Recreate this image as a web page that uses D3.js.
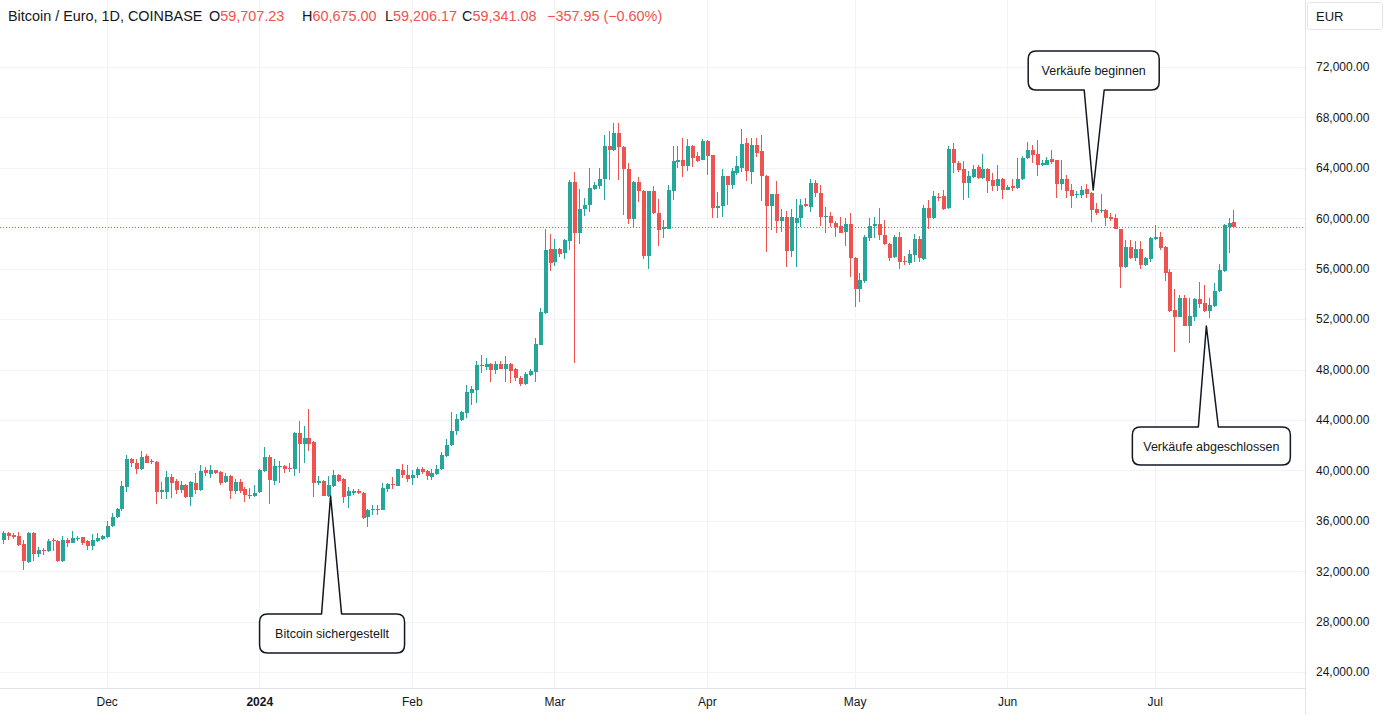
<!DOCTYPE html>
<html><head><meta charset="utf-8">
<script src="https://cdn.jsdelivr.net/npm/d3@7"></script>
<style>
html,body{margin:0;padding:0;background:#fff;overflow:hidden;}
svg{display:block;font-family:"Liberation Sans",Arial,sans-serif;}
</style></head><body>
<svg id="chart" width="1386" height="715"></svg>
<script>
// ---------------- DATA ----------------
const startDate = "2023-11-10"; // first daily candle
const opens = [
// Nov
34470,35000,34860,34810,34120,32700,35050,33360,33670,33590,34470,34390,32800,34470,34260,34550,34680,34390,33990,34390,34550,
// Dec
34680,35580,36260,36900,38700,40870,40610,40080,41140,40660,40690,38310,38310,39470,39150,38440,38840,37910,39020,38410,40000,39740,40000,39870,39080,39580,38370,39110,38500,37950,37950,
// Jan
38320,39980,41040,39190,40300,40380,40220,40110,42940,42100,42600,42230,39030,39190,38000,38770,39640,39300,37960,38230,38330,38230,36300,36830,36880,36830,38550,38940,38730,40050,39660,
// Feb
39390,39600,40080,39920,39470,39740,40080,41110,42010,43120,44000,44580,46160,46380,48360,48230,48410,47960,48410,48020,48410,48020,47350,46830,47570,47800,49950,52510,57530,
// Mar
56520,57580,57260,58180,62860,58840,60700,61040,62360,62550,63080,65770,65400,66780,65670,63920,59960,62860,62200,56990,62150,60380,59160,59160,62150,64450,64660,64130,65720,64930,64660,
// Apr
66120,64980,60830,60960,63340,62630,63600,64000,65980,63660,65850,65320,63390,60960,61890,59770,60120,57430,59660,60000,61110,60930,62780,62040,60130,60190,59660,59390,58940,59550,
// May
56830,54370,55060,58470,59420,59550,58680,57960,56910,58550,56600,56470,57050,58320,56780,60830,60030,61700,61750,60830,65510,64400,63920,62810,63290,64080,63210,63920,63020,62550,63130,
// Jun
62280,62550,62410,63080,64790,65400,65060,64260,64260,64710,64610,62680,63130,62230,61830,61810,62330,62020,60750,60560,60640,60110,60030,59160,56100,57740,56830,57540,56300,56750,
// Jul
58330,58490,57750,55770,52730,52200,53650,51460,52200,53580,53260,52680,53050,54260,55850,59290,59707.23
];
const highs = [
35210,35130,35000,35080,34470,35130,35130,33940,33860,34550,34650,34470,34810,34600,35210,34780,34680,34470,34940,35050,34860,
36000,36580,36980,39150,41220,41000,40870,41530,41270,40930,40740,39080,39950,39740,39290,39150,38890,39150,39820,40400,40260,40400,40030,39950,39820,39600,39320,39320,38710,38580,38840,
40090,41830,41220,40880,40750,40430,40560,43020,43950,43520,44870,42360,39560,39240,39560,40030,39720,39370,38680,38490,38550,38280,36910,37280,37280,39000,39000,39470,40130,40530,40400,
40000,40260,40260,40000,40130,40400,41450,42510,44630,44450,44710,46750,46690,48680,49130,48940,48490,48680,48680,49070,48490,48150,47490,47800,48020,50530,52910,59120,58720,
58320,57650,58370,63020,63660,62330,61620,64000,62860,64000,66570,66910,67520,67520,65720,64400,62940,63290,62280,62150,62550,61540,59850,62600,65770,65770,66380,66250,65850,65240,66250,
66200,64980,62070,63920,63390,64000,64930,67090,66380,66380,66380,66640,63470,61960,62940,60700,60600,60740,61510,61510,61590,63090,63040,62640,60870,60530,59820,60080,60000,60400,
56960,55640,58680,60000,60130,60790,59870,58020,58680,58940,56990,57470,58790,58630,61090,61440,62150,62000,62280,65770,65980,64530,64530,63740,64260,64190,65060,64000,63600,64190,63210,
62600,63080,64790,64930,66040,65850,66200,64610,64870,65400,64660,64660,63470,62680,62150,62550,62680,62070,61220,61960,60750,60380,60300,59160,58250,58280,58230,58230,56960,58490,
59470,58940,57810,55960,54370,53920,53920,53650,53650,54980,54710,53650,54900,56380,59550,60000,60675.00
];
const lows = [
34150,34470,34550,34020,32090,32620,32800,33090,33280,33490,33590,32750,32750,33940,34200,34390,34070,33670,33670,34330,34470,
34600,35520,36190,36800,38310,40290,39680,40030,40560,40480,37300,37700,37700,37780,38100,38180,37830,37170,38100,38360,39550,39420,39740,38840,38970,37730,38130,38180,37520,37710,37870,
38240,39900,37340,38840,38980,39770,39850,39560,39770,40560,41570,37870,38840,37970,37920,38660,39110,37400,37010,38070,38150,36170,35510,36430,36480,36830,38280,38490,38730,39390,39080,
38810,39420,39740,39210,39210,39660,40000,41060,41960,42780,43920,44130,45160,45370,47700,47960,47010,47620,48020,47010,46960,47090,46690,46750,47460,47010,49920,52380,55820,
56200,56910,56730,57470,48530,57920,60170,60480,62230,62330,61440,63020,65320,63020,60220,59510,59240,61280,56730,55990,60300,57790,58450,59110,61440,64000,63290,63740,64080,64450,64610,
63470,60030,60030,60110,61090,62360,63470,63660,62940,62680,64870,61360,57310,59060,58840,58900,56150,56900,56170,59340,60870,60530,61720,59390,58810,59290,58490,58810,57810,55320,
52990,53390,54840,58230,58410,58280,57880,56640,56830,55960,56330,56330,56520,56520,56680,59110,59960,61400,60640,60750,63600,63660,61440,61620,63210,63080,63130,62020,62150,62150,61540,
62230,62150,62330,63020,64710,64400,63390,64130,64190,64340,61620,62230,61620,60830,61620,61620,61620,59690,60220,60430,59370,59770,59110,54480,56030,56750,56640,55960,56250,56560,
58280,57490,55060,52600,49420,52150,51460,50140,51880,52860,52600,52070,52990,54180,55770,57220,59206.17
];
const closes = [
35050,34780,34680,34070,32800,35050,33330,33670,33590,34390,34390,32800,34470,34200,34600,34650,34200,34020,34470,34600,34780,
35600,36320,36900,38760,40870,40560,40080,41080,40610,40740,38280,38440,39470,39020,38410,38840,37910,39080,38410,39950,39820,40000,39820,39020,39580,38400,39060,38400,38050,38050,38180,
40030,41090,39240,40350,40380,40110,40110,42940,42100,42600,42100,39030,39190,38000,38840,39640,39190,37900,38330,38330,38200,36220,36830,36910,36960,38630,38940,38890,40080,39600,39340,
39660,40080,39870,39550,39820,40130,41190,42010,43150,44050,44630,46220,46430,48360,48280,48410,47960,48410,48070,48410,47880,47350,46830,47620,47880,50000,52590,57480,56480,
57580,57180,58260,62860,58840,60700,61090,62410,62600,63080,65720,65400,66780,65670,63870,59960,62860,62150,56990,62150,60380,59060,59320,62230,64530,64660,64130,65720,64790,64530,66120,
64930,60830,61010,63340,62630,63740,64130,65930,63740,65850,65190,63340,60960,61890,59770,60110,57430,60120,60000,61060,61000,62830,62040,60130,60190,59600,59340,58860,59550,56830,
54370,55110,58550,59390,59520,58680,57960,56830,58550,56500,56520,57130,58370,56860,60830,60030,61750,61570,60750,65510,64400,63820,62810,63340,63920,63210,63920,62940,62550,63130,62230,
62490,62410,63130,64790,65400,64980,64260,64400,64660,64450,62680,63130,62150,61750,61940,62280,61890,60640,60430,60640,60030,59980,59160,56150,57740,56830,57540,56300,56830,58410,
58490,57620,55690,52680,52200,53650,51460,52250,53580,53210,52680,53130,54260,55900,59470,59660,59341.08
];
const priceTicks = [24000,28000,32000,36000,40000,44000,48000,52000,56000,60000,64000,68000,72000];
const timeTicks = ["2023-12-01","2024-01-01","2024-02-01","2024-03-01","2024-04-01","2024-05-01","2024-06-01","2024-07-01"];
const timeLabels = ["Dec","2024","Feb","Mar","Apr","May","Jun","Jul"];
const annoTexts = ["Bitcoin sichergestellt", "Verkäufe beginnen", "Verkäufe abgeschlossen"];
const annoTipDates = ["2024-01-15T12:00:00Z", "2024-06-18T12:00:00Z", "2024-07-11T12:00:00Z"];
const annoTipPrices = [37970, 62240, 51450];
const symbolTitle = "Bitcoin / Euro, 1D, COINBASE";
const lastChange = "−357.95 (−0.60%)";

// ---------------- LAYOUT ----------------
const W = 1386, H = 715;
const plotR = 1305, plotB = 688;
const UP = "#26a69a", DOWN = "#ef5350", TXT = "#131722", GRID = "#f0f3fa", BORDER = "#e0e3eb";
// callout box geometry relative to the pointer tip: [dx left, dy top, width, height, base offset]
const annoBoxes = [[-71, 118, 145, 39, 1], [-65, -139, 131, 39, 1], [-74, 101, 158, 38, 2]];

const svg = d3.select("#chart");
const parse = d3.utcParse("%Y-%m-%d");
const x = d3.scaleUtc()
  .domain([parse("2023-12-01"), parse("2024-07-01")])
  .range([106.7, 1154.7]);
const y = d3.scaleLinear().domain([24000, 72000]).range([672, 67]);

const start = parse(startDate);
const candles = closes.map((c, i) => ({
  date: d3.utcDay.offset(start, i),
  o: opens[i], h: highs[i], l: lows[i], c: c
}));

// grid
const grid = svg.append("g");
grid.selectAll("line.h").data(priceTicks).join("line")
  .attr("x1", 0).attr("x2", plotR)
  .attr("y1", d => Math.round(y(d)) + 0.5).attr("y2", d => Math.round(y(d)) + 0.5)
  .attr("stroke", GRID).attr("stroke-width", 1);
grid.selectAll("line.v").data(timeTicks.map(parse)).join("line")
  .attr("y1", 0).attr("y2", plotB)
  .attr("x1", d => Math.round(x(d)) + 0.5).attr("x2", d => Math.round(x(d)) + 0.5)
  .attr("stroke", GRID).attr("stroke-width", 1);

// last price dotted line
const lastC = closes[closes.length - 1];
svg.append("line")
  .attr("x1", 0).attr("x2", plotR)
  .attr("y1", Math.round(y(lastC)) + 0.5).attr("y2", Math.round(y(lastC)) + 0.5)
  .attr("stroke", DOWN).attr("stroke-width", 1).attr("stroke-dasharray", "1,2")
  .attr("shape-rendering", "crispEdges");

// candles
const cg = svg.append("g").attr("shape-rendering", "crispEdges");
const bw = 4;
const cs = cg.selectAll("g").data(candles).join("g");
cs.append("rect")
  .attr("x", d => Math.round(x(d.date)))
  .attr("width", 1)
  .attr("y", d => y(d.h))
  .attr("height", d => Math.max(1, y(d.l) - y(d.h)))
  .attr("fill", d => d.c >= d.o ? UP : DOWN);
cs.append("rect")
  .attr("x", d => Math.round(x(d.date)) - 1.5)
  .attr("width", bw)
  .attr("y", d => y(Math.max(d.o, d.c)))
  .attr("height", d => Math.max(1, Math.abs(y(d.o) - y(d.c))))
  .attr("fill", d => d.c >= d.o ? UP : DOWN);

// annotations (callouts)
const ag = svg.append("g");
annoTexts.forEach((t, i) => {
  const tx = x(d3.isoParse(annoTipDates[i])), ty = y(annoTipPrices[i]);
  const [dx, dy, bwid, bh, bo] = annoBoxes[i];
  const bx = tx + dx, by = ty + dy, r = 8, half = 10, base = tx + bo;
  let p;
  if (dy > 0) {
    p = `M${bx + r},${by} L${base - half},${by} L${tx},${ty} L${base + half},${by} L${bx + bwid - r},${by}
      Q${bx + bwid},${by} ${bx + bwid},${by + r} L${bx + bwid},${by + bh - r} Q${bx + bwid},${by + bh} ${bx + bwid - r},${by + bh}
      L${bx + r},${by + bh} Q${bx},${by + bh} ${bx},${by + bh - r} L${bx},${by + r} Q${bx},${by} ${bx + r},${by} Z`;
  } else {
    p = `M${bx + r},${by} L${bx + bwid - r},${by} Q${bx + bwid},${by} ${bx + bwid},${by + r} L${bx + bwid},${by + bh - r}
      Q${bx + bwid},${by + bh} ${bx + bwid - r},${by + bh} L${base + half},${by + bh} L${tx},${ty} L${base - half},${by + bh}
      L${bx + r},${by + bh} Q${bx},${by + bh} ${bx},${by + bh - r} L${bx},${by + r} Q${bx},${by} ${bx + r},${by} Z`;
  }
  ag.append("path").attr("d", p).attr("fill", "#fff").attr("stroke", TXT).attr("stroke-width", 1.5)
    .attr("stroke-linejoin", "round");
  ag.append("text").text(t)
    .attr("x", bx + bwid / 2).attr("y", by + bh / 2 + 4.5)
    .attr("text-anchor", "middle").attr("font-size", 12.5).attr("fill", TXT);
});

// right price axis
svg.append("rect").attr("x", plotR).attr("y", 0).attr("width", W - plotR).attr("height", H).attr("fill", "#fff");
svg.append("rect").attr("x", 0).attr("y", plotB).attr("width", plotR).attr("height", H - plotB).attr("fill", "#fff");
const yAxis = d3.axisRight(y).tickValues(priceTicks).tickFormat(d3.format(",.2f")).tickSize(0).tickPadding(11);
const ya = svg.append("g").attr("transform", `translate(${plotR},0)`).call(yAxis);
ya.select(".domain").remove();
ya.selectAll("text").attr("font-size", 12).attr("fill", TXT).attr("font-family", "Liberation Sans, Arial, sans-serif");

const xAxis = d3.axisBottom(x).tickValues(timeTicks.map(parse)).tickFormat((d, i) => timeLabels[i]).tickSize(0).tickPadding(9);
const xa = svg.append("g").attr("transform", `translate(0,${plotB})`).call(xAxis);
xa.select(".domain").remove();
xa.selectAll("text").attr("font-size", 12).attr("fill", TXT).attr("font-family", "Liberation Sans, Arial, sans-serif")
  .attr("font-weight", (d, i) => timeLabels[i] === "2024" ? "bold" : "normal");

// borders
svg.append("line").attr("x1", plotR + 0.5).attr("x2", plotR + 0.5).attr("y1", 0).attr("y2", H)
  .attr("stroke", BORDER);
svg.append("line").attr("x1", 0).attr("x2", plotR).attr("y1", plotB + 0.5).attr("y2", plotB + 0.5)
  .attr("stroke", BORDER);

// currency box
svg.append("rect").attr("x", 1307.5).attr("y", 2.5).attr("width", 75).attr("height", 27).attr("rx", 3)
  .attr("fill", "#fff").attr("stroke", BORDER);
svg.append("text").attr("x", 1316).attr("y", 21).text("EUR").attr("font-size", 13).attr("fill", TXT);

// header
const last = candles[candles.length - 1];
const fmt = d3.format(",.2f");
const hg = svg.append("g").attr("font-size", 14.4).attr("fill", TXT);
hg.append("text").attr("x", 8).attr("y", 21).text(symbolTitle);
const hx = [209, 302, 385, 462];
[["O", last.o], ["H", last.h], ["L", last.l], ["C", last.c]].forEach(([k, v], i) => {
  const t = hg.append("text").attr("x", hx[i]).attr("y", 21);
  t.append("tspan").text(k).attr("fill", TXT);
  t.append("tspan").text(fmt(v)).attr("fill", DOWN);
});
hg.append("text").attr("x", 547).attr("y", 21).text(lastChange).attr("fill", DOWN);
</script>
</body></html>
